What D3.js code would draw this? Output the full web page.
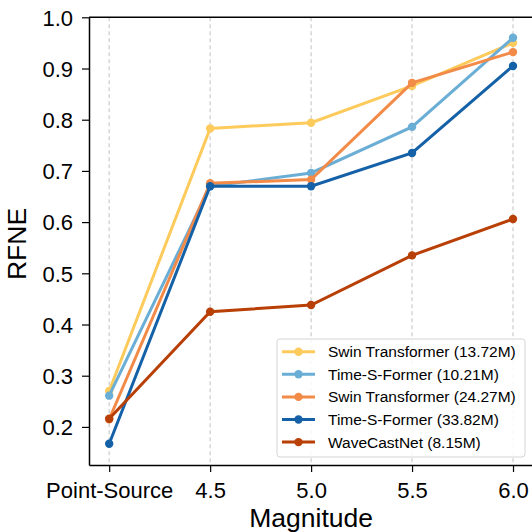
<!DOCTYPE html>
<html>
<head>
<meta charset="utf-8">
<script src="https://cdn.jsdelivr.net/npm/d3@7"></script>
<style>
  body { margin: 0; background: #fff; }
  svg { display: block; font-family: "Liberation Sans", Arial, sans-serif; }
</style>
</head>
<body>
<svg id="chart" width="532" height="532"></svg>
<script>
// data
const categories = ["Point-Source", "4.5", "5.0", "5.5", "6.0"];
const yTicks = [0.2, 0.3, 0.4, 0.5, 0.6, 0.7, 0.8, 0.9, 1.0];

const swinSmall  = [0.270, 0.783, 0.794, 0.866, 0.950];
const tsfSmall   = [0.261, 0.670, 0.696, 0.786, 0.960];
const swinLarge  = [0.215, 0.676, 0.683, 0.872, 0.932];
const tsfLarge   = [0.167, 0.670, 0.670, 0.735, 0.905];
const waveCast   = [0.216, 0.425, 0.438, 0.535, 0.606];

const seriesNames = [
    "Swin Transformer (13.72M)",
    "Time-S-Former (10.21M)",
    "Swin Transformer (24.27M)",
    "Time-S-Former (33.82M)",
    "WaveCastNet (8.15M)"
];
const seriesValues = [swinSmall, tsfSmall, swinLarge, tsfLarge, waveCast];
const colors = ["#fdca5c", "#6aaed6", "#f28a48", "#1561a8", "#b83f05"];

// size and boundary
const svg = d3.select("#chart");
const plotLeft = 89, plotTop = 17.3, plotBottom = 465, plotRight = 533.2;

const xScale = d3.scaleLinear()
    .domain([-0.2, 4.2])
    .range([plotLeft, plotRight]);

const yScale = d3.scaleLinear()
    .domain([0.1256, 1.0])
    .range([plotBottom, plotTop]);

// vertical dashed grid
svg.append("g")
    .selectAll("line")
    .data(categories)
    .enter()
    .append("line")
    .attr("x1", (d, i) => xScale(i))
    .attr("x2", (d, i) => xScale(i))
    .attr("y1", plotTop)
    .attr("y2", plotBottom)
    .attr("stroke", "#cccccc")
    .attr("stroke-width", 1.2)
    .attr("stroke-dasharray", "4,3");

// axes
const xAxis = d3.axisBottom(xScale)
    .tickValues(d3.range(categories.length))
    .tickFormat(i => categories[i])
    .tickSize(7)
    .tickSizeOuter(0)
    .tickPadding(10);

const yAxis = d3.axisLeft(yScale)
    .tickValues(yTicks)
    .tickFormat(d3.format(".1f"))
    .tickSize(7)
    .tickSizeOuter(0)
    .tickPadding(9);

const gx = svg.append("g")
    .attr("transform", `translate(0,${plotBottom})`)
    .call(xAxis);

const gy = svg.append("g")
    .attr("transform", `translate(${plotLeft},0)`)
    .call(yAxis);

[gx, gy].forEach(g => {
    g.selectAll("text")
        .attr("fill", "#000")
        .style("font-size", "22px")
        .style("font-family", "'Liberation Sans', Arial, sans-serif");
    g.selectAll("line").attr("stroke", "#000").attr("stroke-width", 1.2);
    g.select(".domain").attr("stroke", "#000").attr("stroke-width", 1.5);
});
gy.selectAll(".tick text").attr("dy", "0.35em");

// top & right spines
svg.append("line")
    .attr("x1", plotLeft).attr("x2", plotRight)
    .attr("y1", plotTop).attr("y2", plotTop)
    .attr("stroke", "#000").attr("stroke-width", 1.5);
svg.append("line")
    .attr("x1", plotRight).attr("x2", plotRight)
    .attr("y1", plotTop).attr("y2", plotBottom)
    .attr("stroke", "#000").attr("stroke-width", 1.5);

// axis titles
svg.append("text")
    .attr("x", (plotLeft + plotRight) / 2)
    .attr("y", 527)
    .attr("text-anchor", "middle")
    .style("font-size", "26.5px")
    .text("Magnitude");

svg.append("text")
    .attr("transform", "translate(26,244) rotate(-90)")
    .attr("text-anchor", "middle")
    .style("font-size", "26.5px")
    .text("RFNE");

// lines
const line = d3.line()
    .x((d, i) => xScale(i))
    .y(d => yScale(d));

const series = svg.append("g")
    .selectAll("g")
    .data(seriesValues)
    .enter()
    .append("g");

series.append("path")
    .attr("d", d => line(d))
    .attr("fill", "none")
    .attr("stroke", (d, i) => colors[i])
    .attr("stroke-width", 3);

series.each(function(vals, si) {
    d3.select(this).selectAll("circle")
        .data(vals)
        .enter()
        .append("circle")
        .attr("cx", (d, i) => xScale(i))
        .attr("cy", d => yScale(d))
        .attr("r", 4.2)
        .attr("fill", colors[si]);
});

// legend
const lg = svg.append("g").attr("transform", "translate(277,339)");
lg.append("rect")
    .attr("width", 248)
    .attr("height", 118)
    .attr("rx", 3)
    .attr("fill", "rgba(255,255,255,0.85)")
    .attr("stroke", "#d5d5d5")
    .attr("stroke-width", 1);

const items = lg.selectAll(".item")
    .data(seriesNames)
    .enter()
    .append("g")
    .attr("transform", (d, i) => `translate(0,${12.7 + i * 22.6})`);

items.append("line")
    .attr("x1", 5).attr("x2", 38)
    .attr("stroke", (d, i) => colors[i])
    .attr("stroke-width", 3);
items.append("circle")
    .attr("cx", 21.5)
    .attr("r", 4.2)
    .attr("fill", (d, i) => colors[i]);
items.append("text")
    .attr("x", 51)
    .attr("dy", "0.35em")
    .style("font-size", "15.5px")
    .text(d => d);
</script>
</body>
</html>
